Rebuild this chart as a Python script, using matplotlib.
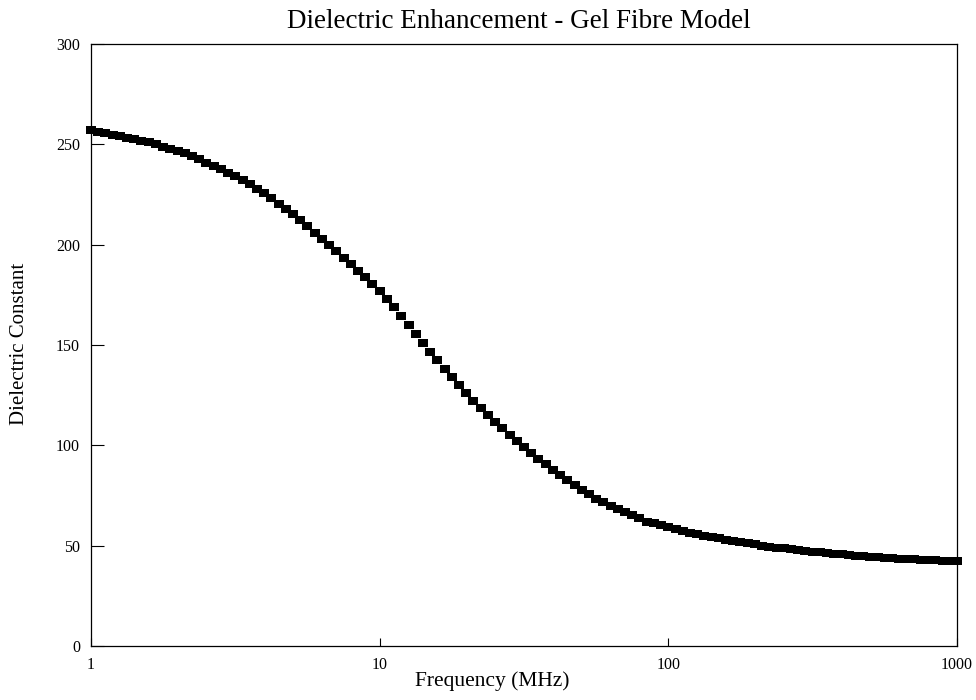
import matplotlib
matplotlib.use("Agg")
import matplotlib.pyplot as plt
from matplotlib.path import Path

# Frequency mantissas (40 points per decade) and decades
mantissas = [1.000, 1.059, 1.122, 1.189, 1.259, 1.334, 1.413, 1.496, 1.585, 1.679,
             1.778, 1.884, 1.995, 2.113, 2.239, 2.371, 2.512, 2.661, 2.818, 2.985,
             3.162, 3.350, 3.548, 3.758, 3.981, 4.217, 4.467, 4.732, 5.012, 5.309,
             5.623, 5.957, 6.310, 6.683, 7.079, 7.499, 7.943, 8.414, 8.913, 9.441]
decades = [1, 10, 100]
frequency = [m * d for d in decades for m in mantissas] + [1000.0]

dielectric = [
    257.0, 256.3, 255.5, 254.8, 254.0, 253.2, 252.5, 251.7, 251.0, 250.0,
    248.9, 247.8, 246.7, 245.6, 244.1, 242.5, 240.9, 239.3, 237.7, 235.9,
    234.1, 232.2, 230.0, 227.8, 225.6, 223.1, 220.4, 217.8, 215.1, 212.3,
    209.1, 206.0, 202.7, 199.7, 196.6, 193.5, 190.4, 187.1, 183.7, 180.3,
    176.7, 172.7, 168.8, 164.6, 160.0, 155.5, 151.0, 146.6, 142.4, 138.1,
    134.0, 130.0, 126.0, 122.2, 118.6, 115.0, 111.7, 108.5, 105.2, 102.0,
    99.2, 96.3, 93.4, 90.5, 87.8, 85.2, 82.6, 80.2, 77.9, 75.5,
    73.4, 71.7, 70.0, 68.3, 66.7, 65.2, 63.6, 62.0, 61.1, 60.1,
    59.2, 58.3, 57.4, 56.5, 55.6, 54.9, 54.3, 53.6, 53.0, 52.4,
    51.8, 51.2, 50.6, 50.0, 49.4, 49.0, 48.6, 48.1, 47.7, 47.3,
    47.0, 46.6, 46.3, 45.9, 45.6, 45.3, 45.0, 44.7, 44.5, 44.2,
    44.0, 43.8, 43.5, 43.3, 43.2, 43.0, 42.8, 42.7, 42.5, 42.4,
    42.3]

x_ticks = [1, 10, 100, 1000]
x_tick_labels = ["1", "10", "100", "1000"]
y_ticks = [0, 50, 100, 150, 200, 250, 300]

plt.rcParams['font.family'] = ['Liberation Serif', 'DejaVu Serif']

fig = plt.figure(figsize=(9.76, 7.0), dpi=100)
ax = fig.add_axes([91/976, 1 - 646/700, (957-91)/976, (646-44)/700])

rect = Path([(-1, -0.75), (1, -0.75), (1, 0.75), (-1, 0.75), (-1, -0.75)],
            [Path.MOVETO, Path.LINETO, Path.LINETO, Path.LINETO, Path.CLOSEPOLY])
ax.plot(frequency, dielectric, linestyle='none', marker=rect, markersize=7,
        color='black', markeredgewidth=0, clip_on=False, zorder=3)

ax.set_xscale('log')
ax.set_xlim(1, 1000)
ax.set_ylim(0, 300)
ax.set_xticks(x_ticks)
ax.set_xticklabels(x_tick_labels)
ax.xaxis.set_minor_locator(matplotlib.ticker.NullLocator())
ax.set_yticks(y_ticks)
ax.tick_params(axis='x', direction='in', length=6, width=0.8, labelsize=11.5, pad=8)
ax.tick_params(axis='y', direction='in', length=9, width=0.8, labelsize=11.5, pad=8)
for s in ax.spines.values():
    s.set_linewidth(0.9)

fig.text(519/976, 1 - 28/700, "Dielectric Enhancement - Gel Fibre Model",
         fontsize=19.5, ha='center', va='baseline')
fig.text(492/976, 1 - 686/700, "Frequency (MHz)", fontsize=15.5,
         ha='center', va='baseline')
fig.text(20/976, 1 - 344/700, "Dielectric Constant", fontsize=15,
         ha='center', va='center', rotation=90)

fig.savefig("out.png", dpi=100)
